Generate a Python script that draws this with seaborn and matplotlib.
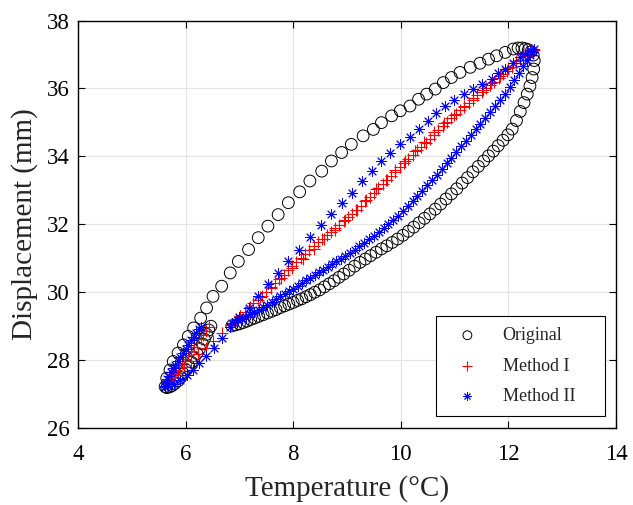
import numpy as np
import pandas as pd
import matplotlib
matplotlib.use("Agg")
import matplotlib.pyplot as plt
import seaborn as sns

# ---------------- data (Temperature °C, Displacement mm) ----------------
# Original: heating branch, turn-around, cooling branch, heating (small loop)
original_pts = [
    (6.86, 29.00), (6.93, 29.03), (7.00, 29.06), (7.07, 29.10), (7.14, 29.14), (7.21, 29.19),
    (7.28, 29.23), (7.36, 29.28), (7.44, 29.33), (7.52, 29.38), (7.60, 29.43), (7.68, 29.48),
    (7.76, 29.54), (7.84, 29.59), (7.92, 29.64), (8.00, 29.69), (8.08, 29.75), (8.16, 29.80),
    (8.24, 29.86), (8.32, 29.92), (8.40, 29.99), (8.49, 30.06), (8.58, 30.15), (8.67, 30.24),
    (8.76, 30.33), (8.85, 30.43), (8.94, 30.53), (9.04, 30.64), (9.14, 30.76), (9.24, 30.87),
    (9.34, 30.97), (9.44, 31.07), (9.54, 31.17), (9.64, 31.27), (9.74, 31.36), (9.84, 31.46),
    (9.94, 31.56), (10.04, 31.67), (10.14, 31.79), (10.24, 31.91), (10.34, 32.04), (10.44, 32.17),
    (10.54, 32.30), (10.64, 32.44), (10.74, 32.59), (10.84, 32.74), (10.94, 32.89), (11.04, 33.04),
    (11.14, 33.21), (11.24, 33.37), (11.34, 33.54), (11.44, 33.70), (11.54, 33.86), (11.63, 34.01),
    (11.72, 34.15), (11.81, 34.31), (11.90, 34.47), (11.99, 34.63), (12.07, 34.80), (12.15, 35.05),
    (12.22, 35.32), (12.29, 35.58), (12.35, 35.83), (12.40, 36.07), (12.44, 36.32), (12.47, 36.57),
    (12.48, 36.82), (12.46, 36.98), (12.42, 37.08), (12.37, 37.14), (12.31, 37.17), (12.25, 37.19),
    (12.18, 37.19), (12.09, 37.16), (11.94, 37.06), (11.78, 36.96), (11.63, 36.86), (11.47, 36.74),
    (11.29, 36.62), (11.10, 36.47), (10.94, 36.32), (10.79, 36.17), (10.64, 35.98), (10.48, 35.83),
    (10.33, 35.68), (10.17, 35.48), (9.99, 35.34), (9.83, 35.19), (9.64, 34.99), (9.49, 34.79),
    (9.30, 34.60), (9.08, 34.35), (8.90, 34.11), (8.71, 33.86), (8.53, 33.56), (8.31, 33.27),
    (8.12, 32.95), (7.91, 32.63), (7.72, 32.28), (7.53, 31.94), (7.35, 31.60), (7.17, 31.25),
    (6.98, 30.90), (6.83, 30.56), (6.67, 30.17), (6.51, 29.87), (6.39, 29.53), (6.28, 29.23),
    (6.15, 28.94), (6.05, 28.69), (5.96, 28.44), (5.86, 28.20), (5.77, 27.95), (5.71, 27.70),
    (5.65, 27.46), (5.62, 27.21), (5.65, 27.18), (5.70, 27.20), (5.75, 27.24), (5.80, 27.30),
    (5.86, 27.38), (5.91, 27.48), (5.96, 27.59), (6.01, 27.70), (6.06, 27.81), (6.11, 27.93),
    (6.16, 28.06), (6.21, 28.19), (6.26, 28.33), (6.31, 28.47), (6.35, 28.61), (6.39, 28.75),
    (6.43, 28.88), (6.47, 28.99),
]

# Method I: heating branch, cooling branch, heating (small loop)
method1_pts = [
    (6.86, 29.05), (6.94, 29.16), (7.02, 29.28), (7.10, 29.41), (7.18, 29.54), (7.26, 29.66),
    (7.34, 29.77), (7.42, 29.88), (7.50, 30.00), (7.58, 30.12), (7.66, 30.25), (7.74, 30.38),
    (7.82, 30.51), (7.90, 30.64), (7.98, 30.77), (8.06, 30.89), (8.14, 31.01), (8.22, 31.13),
    (8.30, 31.25), (8.38, 31.36), (8.46, 31.46), (8.54, 31.56), (8.62, 31.67), (8.70, 31.77),
    (8.78, 31.88), (8.86, 31.98), (8.94, 32.09), (9.02, 32.20), (9.10, 32.31), (9.18, 32.42),
    (9.26, 32.54), (9.34, 32.67), (9.42, 32.80), (9.50, 32.93), (9.58, 33.05), (9.66, 33.17),
    (9.74, 33.29), (9.82, 33.41), (9.90, 33.54), (9.98, 33.67), (10.06, 33.80), (10.14, 33.93),
    (10.22, 34.05), (10.30, 34.17), (10.38, 34.28), (10.46, 34.39), (10.54, 34.51), (10.62, 34.64),
    (10.70, 34.77), (10.78, 34.89), (10.86, 35.01), (10.94, 35.13), (11.02, 35.25), (11.10, 35.35),
    (11.18, 35.45), (11.26, 35.56), (11.34, 35.67), (11.42, 35.79), (11.50, 35.90), (11.58, 36.00),
    (11.66, 36.10), (11.74, 36.20), (11.82, 36.30), (11.90, 36.41), (11.98, 36.52), (12.06, 36.63),
    (12.14, 36.74), (12.22, 36.84), (12.30, 36.94), (12.37, 37.02), (12.43, 37.09), (12.47, 37.13),
    (12.40, 37.12), (12.28, 37.00), (12.15, 36.82), (12.00, 36.60), (11.84, 36.37), (11.68, 36.15),
    (11.52, 35.95), (11.35, 35.72), (11.17, 35.48), (10.98, 35.22), (10.80, 34.97), (10.62, 34.70),
    (10.44, 34.42), (10.26, 34.15), (10.08, 33.87), (9.90, 33.58), (9.72, 33.30), (9.54, 33.02),
    (9.35, 32.72), (9.16, 32.42), (8.97, 32.12), (8.78, 31.84), (8.58, 31.55), (8.38, 31.26),
    (8.18, 30.98), (7.98, 30.70), (7.78, 30.42), (7.58, 30.14), (7.39, 29.86), (7.20, 29.57),
    (7.02, 29.29), (6.85, 29.03), (6.67, 28.79), (6.51, 28.56), (6.37, 28.36), (6.23, 28.16),
    (6.10, 27.97), (5.97, 27.79), (5.85, 27.60), (5.74, 27.42), (5.66, 27.28), (5.62, 27.22),
    (5.65, 27.30), (5.69, 27.39), (5.73, 27.48), (5.78, 27.58), (5.83, 27.69), (5.88, 27.80),
    (5.93, 27.91), (5.98, 28.02), (6.04, 28.14), (6.10, 28.26), (6.16, 28.38), (6.22, 28.50),
    (6.28, 28.62), (6.33, 28.74), (6.38, 28.86), (6.43, 28.97),
]

# Method II: heating branch, cooling branch, heating (small loop)
method2_pts = [
    (6.86, 29.08), (6.92, 29.12), (6.98, 29.16), (7.05, 29.21), (7.12, 29.27), (7.20, 29.34),
    (7.28, 29.41), (7.36, 29.48), (7.44, 29.56), (7.52, 29.63), (7.60, 29.71), (7.68, 29.79),
    (7.76, 29.87), (7.84, 29.94), (7.92, 30.02), (8.00, 30.10), (8.08, 30.18), (8.16, 30.26),
    (8.24, 30.34), (8.32, 30.42), (8.40, 30.50), (8.48, 30.58), (8.56, 30.66), (8.64, 30.74),
    (8.72, 30.82), (8.80, 30.90), (8.88, 30.98), (8.96, 31.06), (9.05, 31.15), (9.14, 31.25),
    (9.23, 31.35), (9.32, 31.45), (9.41, 31.56), (9.50, 31.66), (9.59, 31.77), (9.68, 31.89),
    (9.77, 32.00), (9.86, 32.12), (9.95, 32.25), (10.04, 32.38), (10.13, 32.52), (10.22, 32.67),
    (10.31, 32.82), (10.40, 32.98), (10.49, 33.14), (10.58, 33.30), (10.67, 33.46), (10.76, 33.63),
    (10.85, 33.80), (10.94, 33.96), (11.03, 34.12), (11.12, 34.29), (11.21, 34.46), (11.30, 34.63),
    (11.39, 34.80), (11.48, 34.96), (11.57, 35.12), (11.66, 35.30), (11.75, 35.47), (11.84, 35.65),
    (11.93, 35.84), (12.02, 36.03), (12.11, 36.24), (12.20, 36.45), (12.28, 36.65), (12.35, 36.83),
    (12.41, 36.98), (12.45, 37.08), (12.47, 37.15),
    (12.40, 37.12), (12.30, 37.02), (12.22, 36.91), (12.09, 36.74), (11.94, 36.58), (11.81, 36.44),
    (11.69, 36.29), (11.50, 36.14), (11.35, 35.99), (11.17, 35.83), (10.98, 35.67), (10.82, 35.49),
    (10.66, 35.27), (10.50, 35.03), (10.33, 34.80), (10.17, 34.58), (9.99, 34.35), (9.80, 34.10),
    (9.64, 33.86), (9.46, 33.56), (9.27, 33.27), (9.09, 32.93), (8.90, 32.62), (8.71, 32.30),
    (8.52, 31.97), (8.31, 31.62), (8.11, 31.25), (7.91, 30.90), (7.72, 30.56), (7.54, 30.22),
    (7.35, 29.87), (7.17, 29.53), (7.00, 29.25), (6.83, 28.96), (6.67, 28.63), (6.53, 28.34),
    (6.38, 28.10), (6.25, 27.90), (6.13, 27.70), (6.02, 27.56), (5.90, 27.41), (5.78, 27.30),
    (5.68, 27.22), (5.62, 27.20),
    (5.61, 27.24), (5.63, 27.33), (5.66, 27.43), (5.69, 27.53), (5.73, 27.64), (5.77, 27.75),
    (5.81, 27.86), (5.85, 27.97), (5.90, 28.09), (5.95, 28.21), (6.00, 28.33), (6.05, 28.45),
    (6.10, 28.57), (6.15, 28.68), (6.20, 28.79), (6.25, 28.90), (6.29, 28.98),
]

series_names = ["Original", "Method I", "Method II"]
x_ticks = [4, 6, 8, 10, 12, 14]
y_ticks = [26, 28, 30, 32, 34, 36, 38]
x_label = "Temperature (°C)"
y_label = "Displacement (mm)"

df_o = pd.DataFrame(original_pts, columns=["T", "D"])
df_1 = pd.DataFrame(method1_pts, columns=["T", "D"])
df_2 = pd.DataFrame(method2_pts, columns=["T", "D"])

# ---------------- plotting ----------------
sns.set_style("ticks")
plt.rcParams["font.family"] = ["Liberation Serif", "DejaVu Serif"]

fig = plt.figure(figsize=(6.33, 5.05), dpi=100)
ax = fig.add_axes([0.1232, 0.1531, 0.850, 0.8063])

sns.scatterplot(data=df_o, x="T", y="D", marker="o", s=72, facecolors="none",
                edgecolor="black", linewidth=0.7, ax=ax, label=series_names[0], zorder=3)
sns.scatterplot(data=df_1, x="T", y="D", marker="+", s=75, color="red",
                linewidth=0.8, ax=ax, label=series_names[1], zorder=4)
sns.scatterplot(data=df_2, x="T", y="D", marker=(8, 2, 0), s=50, color="blue",
                linewidth=0.7, ax=ax, label=series_names[2], zorder=5)

ax.set_xlim(4, 14)
ax.set_ylim(26, 38)
ax.set_xticks(x_ticks)
ax.set_yticks(y_ticks)
ax.grid(True, color="#e3e3e3", linewidth=0.8)
ax.set_axisbelow(True)
for sp in ax.spines.values():
    sp.set_visible(True)
    sp.set_color("black")
    sp.set_linewidth(1.0)
ax.tick_params(direction="in", top=True, right=True, length=5, width=0.8,
               labelsize=16.5, colors="black")
ax.tick_params(axis="x", pad=12)
ax.tick_params(axis="y", pad=6)
ax.set_xlabel(x_label, fontsize=21, labelpad=7)
ax.set_ylabel(y_label, fontsize=21, labelpad=6)

leg = ax.legend(loc="lower left", bbox_to_anchor=(0.665, 0.029, 0.314, 0.25),
                mode="expand", borderaxespad=0, fontsize=13, frameon=True,
                fancybox=False, edgecolor="black", framealpha=1,
                handlelength=2.3, handletextpad=0.8, borderpad=0.6,
                labelspacing=0.75, markerscale=0.75)
leg.get_frame().set_linewidth(0.8)

fig.savefig("out.png", dpi=100)
